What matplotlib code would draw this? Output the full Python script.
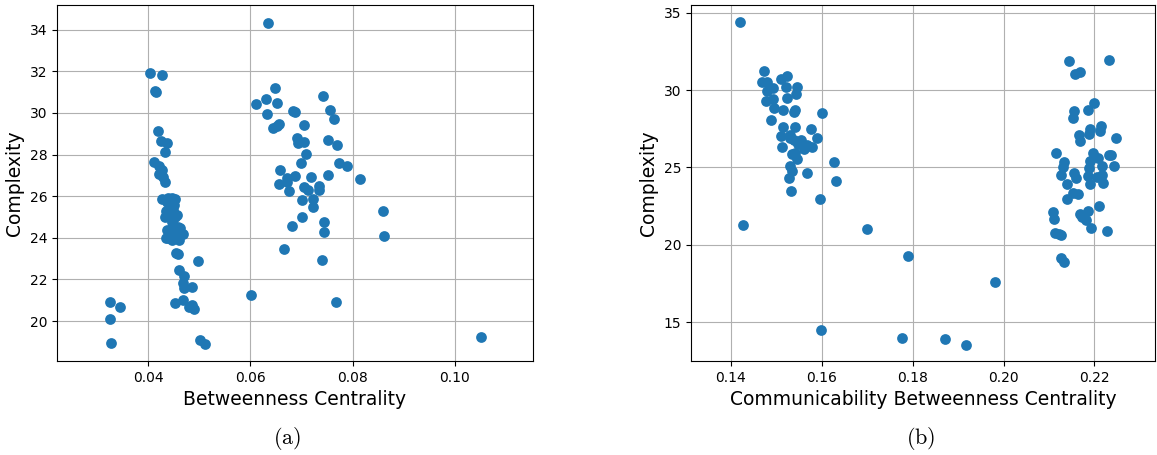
import matplotlib
matplotlib.use("Agg")
import matplotlib.pyplot as plt

plt.rcParams["mathtext.fontset"] = "cm"

DOT = "#1f77b4"

# panel (a): betweenness centrality vs complexity
bc_x = [
    0.0404, 0.0428, 0.0413, 0.0416, 0.0419, 0.0425, 0.0437, 0.0433,
    0.0412, 0.0422, 0.0427, 0.0421, 0.0430, 0.0433, 0.0427, 0.0440,
    0.0453, 0.0437, 0.0443, 0.0449, 0.0433, 0.0443, 0.0453, 0.0446,
    0.0463, 0.0469, 0.0437, 0.0435, 0.0446, 0.0461, 0.0455, 0.0459,
    0.0497, 0.0461, 0.0470, 0.0469, 0.0470, 0.0485, 0.0453, 0.0468,
    0.0481, 0.0489, 0.0485, 0.0502, 0.0511, 0.0325, 0.0345, 0.0325,
    0.0328, 0.0450, 0.0445, 0.0456, 0.0448, 0.0440, 0.0452, 0.0458,
    0.0447, 0.0436,
    0.0635, 0.0649, 0.0631, 0.0611, 0.0652, 0.0743, 0.0684, 0.0688,
    0.0756, 0.0632, 0.0763, 0.0645, 0.0652, 0.0656, 0.0705, 0.0692,
    0.0693, 0.0705, 0.0751, 0.0769, 0.0708, 0.0699, 0.0774, 0.0789,
    0.0815, 0.0658, 0.0672, 0.0687, 0.0657, 0.0672, 0.0675, 0.0719,
    0.0751, 0.0705, 0.0713, 0.0734, 0.0735, 0.0702, 0.0722, 0.0722,
    0.0701, 0.0681, 0.0745, 0.0745, 0.0859, 0.0861, 0.0666, 0.0740,
    0.0602, 0.0768, 0.1051,
]
bc_y = [
    31.91, 31.82, 31.07, 31.02, 29.15, 28.67, 28.57, 28.14,
    27.66, 27.45, 27.26, 27.07, 26.94, 26.70, 25.85, 25.93,
    25.87, 25.74, 25.50, 25.34, 25.00, 25.05, 24.99, 24.77,
    24.46, 24.20, 24.37, 23.98, 23.90, 23.90, 23.28, 23.22,
    22.87, 22.45, 22.16, 21.84, 21.57, 21.62, 20.88, 21.00,
    20.69, 20.56, 20.77, 19.09, 18.90, 20.93, 20.66, 20.10,
    18.93, 25.60, 25.20, 25.10, 24.60, 24.00, 24.30, 24.50,
    25.90, 25.30,
    34.34, 31.19, 30.66, 30.43, 30.50, 30.80, 30.11, 30.03,
    30.14, 29.95, 29.71, 29.26, 29.38, 29.47, 29.41, 28.78,
    28.54, 28.62, 28.70, 28.46, 28.03, 27.58, 27.58, 27.44,
    26.83, 27.26, 26.86, 26.96, 26.60, 26.70, 26.26, 26.94,
    27.02, 26.43, 26.30, 26.49, 26.30, 25.82, 25.88, 25.50,
    25.00, 24.57, 24.75, 24.26, 25.27, 24.09, 23.45, 22.93,
    21.25, 20.93, 19.22,
]

# panel (b): communicability betweenness centrality vs complexity
cbc_x = [
    0.1420, 0.1472, 0.1469, 0.1480, 0.1511, 0.1523, 0.1493, 0.1480,
    0.1522, 0.1545, 0.1544, 0.1477, 0.1493, 0.1523, 0.1495, 0.1515,
    0.1540, 0.1538, 0.1600, 0.1488, 0.1514, 0.1540, 0.1577, 0.1511,
    0.1529, 0.1590, 0.1555, 0.1538, 0.1548, 0.1567, 0.1578, 0.1512,
    0.1542, 0.1534, 0.1545, 0.1626, 0.1529, 0.1535, 0.1527, 0.1568,
    0.1632, 0.1532, 0.1596, 0.1426, 0.1700, 0.1599, 0.1550, 0.1560,
    0.1530, 0.1790, 0.1980, 0.1777, 0.1870, 0.1917,
    0.2143, 0.2231, 0.2157, 0.2168, 0.2200, 0.2154, 0.2152, 0.2185,
    0.2214, 0.2213, 0.2190, 0.2187, 0.2167, 0.2169, 0.2248, 0.2116,
    0.2197, 0.2236, 0.2232, 0.2132, 0.2208, 0.2190, 0.2130, 0.2187,
    0.2216, 0.2243, 0.2155, 0.2127, 0.2159, 0.2185, 0.2205, 0.2217,
    0.2139, 0.2190, 0.2219, 0.2152, 0.2163, 0.2139, 0.2210, 0.2109,
    0.2186, 0.2168, 0.2172, 0.2112, 0.2181, 0.2192, 0.2227, 0.2113,
    0.2127, 0.2122, 0.2127, 0.2134,
]
cbc_y = [
    34.40, 31.25, 30.55, 30.49, 30.71, 30.88, 30.13, 29.97,
    30.17, 30.19, 29.74, 29.32, 29.41, 29.48, 28.81, 28.68,
    28.72, 28.55, 28.51, 28.07, 27.64, 27.60, 27.49, 27.04,
    27.10, 26.91, 26.78, 26.78, 26.52, 26.46, 26.33, 26.35,
    25.92, 25.87, 25.53, 25.34, 25.10, 24.79, 24.30, 24.62,
    24.15, 23.48, 22.96, 21.28, 21.00, 14.46, 26.60, 26.20,
    26.90, 19.27, 17.61, 13.94, 13.90, 13.53,
    31.85, 31.94, 31.05, 31.14, 29.19, 28.64, 28.18, 28.72,
    27.69, 27.38, 27.47, 27.17, 27.10, 26.73, 26.89, 25.92,
    25.96, 25.81, 25.79, 25.38, 25.60, 25.44, 25.05, 24.99,
    25.10, 25.10, 24.66, 24.51, 24.30, 24.45, 24.41, 24.51,
    23.93, 23.93, 24.02, 23.37, 23.28, 22.94, 22.51, 22.14,
    22.20, 21.97, 21.82, 21.65, 21.60, 21.10, 20.91, 20.78,
    20.63, 20.70, 19.12, 18.90,
]

fig = plt.figure(figsize=(11.57, 4.55), dpi=100)
ax1 = fig.add_axes([0.0493, 0.2066, 0.4114, 0.7824])
ax2 = fig.add_axes([0.5972, 0.2066, 0.4010, 0.7824])

for ax, xs, ys, xlabel in [
    (ax1, bc_x, bc_y, "Betweenness Centrality"),
    (ax2, cbc_x, cbc_y, "Communicability Betweenness Centrality"),
]:
    ax.scatter(xs, ys, s=60, color=DOT, zorder=3, linewidths=0)
    ax.grid(True, color="#b0b0b0", linewidth=0.8)
    ax.set_axisbelow(True)
    ax.set_xlabel(xlabel, fontsize=13.5)
    ax.set_ylabel("Complexity", fontsize=13.5)
    ax.tick_params(labelsize=10)

ax1.set_xlim(0.0222, 0.1153)
ax1.set_ylim(18.08, 35.19)
ax1.set_xticks([0.04, 0.06, 0.08, 0.10])
ax1.set_yticks([20, 22, 24, 26, 28, 30, 32, 34])

ax2.set_xlim(0.1312, 0.2333)
ax2.set_ylim(12.48, 35.5)
ax2.set_xticks([0.14, 0.16, 0.18, 0.20, 0.22])
ax2.set_yticks([15, 20, 25, 30, 35])

fig.text(0.248, 0.025, r"$\mathrm{(a)}$", fontsize=16, ha="center")
fig.text(0.796, 0.025, r"$\mathrm{(b)}$", fontsize=16, ha="center")

fig.savefig("out.png", dpi=100)
